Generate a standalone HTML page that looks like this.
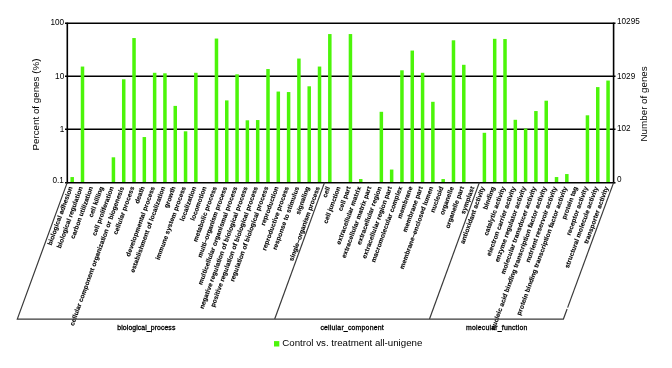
<!DOCTYPE html>
<html><head><meta charset="utf-8"><style>
html,body{margin:0;padding:0;background:#fff;overflow:hidden;width:672px;height:368px;}
svg{display:block;will-change:transform;}
text{font-family:"Liberation Sans",sans-serif;fill:#000;}
</style></head><body>
<svg width="672" height="368" viewBox="0 0 672 368">
<rect width="672" height="368" fill="#fff"/>
<!-- gridlines -->
<g stroke="#000" stroke-width="1.4" fill="none">
<line x1="65" y1="23.3" x2="615.5" y2="23.3"/>
<line x1="65" y1="76.3" x2="615.5" y2="76.3"/>
<line x1="65" y1="129.3" x2="615.5" y2="129.3"/>
</g>
<rect x="70.45" y="177.05" width="3.5" height="5.75" fill="#4cf50a"/>
<rect x="80.75" y="66.55" width="3.5" height="116.25" fill="#4cf50a"/>
<rect x="111.67" y="157.30" width="3.5" height="25.50" fill="#4cf50a"/>
<rect x="121.97" y="79.30" width="3.5" height="103.50" fill="#4cf50a"/>
<rect x="132.28" y="38.05" width="3.5" height="144.75" fill="#4cf50a"/>
<rect x="142.58" y="137.05" width="3.5" height="45.75" fill="#4cf50a"/>
<rect x="152.89" y="72.80" width="3.5" height="110.00" fill="#4cf50a"/>
<rect x="163.19" y="73.30" width="3.5" height="109.50" fill="#4cf50a"/>
<rect x="173.50" y="105.90" width="3.5" height="76.90" fill="#4cf50a"/>
<rect x="183.81" y="131.30" width="3.5" height="51.50" fill="#4cf50a"/>
<rect x="194.11" y="72.80" width="3.5" height="110.00" fill="#4cf50a"/>
<rect x="214.72" y="38.55" width="3.5" height="144.25" fill="#4cf50a"/>
<rect x="225.02" y="100.40" width="3.5" height="82.40" fill="#4cf50a"/>
<rect x="235.33" y="74.30" width="3.5" height="108.50" fill="#4cf50a"/>
<rect x="245.63" y="120.30" width="3.5" height="62.50" fill="#4cf50a"/>
<rect x="255.94" y="120.05" width="3.5" height="62.75" fill="#4cf50a"/>
<rect x="266.25" y="69.05" width="3.5" height="113.75" fill="#4cf50a"/>
<rect x="276.55" y="91.55" width="3.5" height="91.25" fill="#4cf50a"/>
<rect x="286.86" y="92.05" width="3.5" height="90.75" fill="#4cf50a"/>
<rect x="297.16" y="58.55" width="3.5" height="124.25" fill="#4cf50a"/>
<rect x="307.46" y="86.30" width="3.5" height="96.50" fill="#4cf50a"/>
<rect x="317.77" y="66.55" width="3.5" height="116.25" fill="#4cf50a"/>
<rect x="328.07" y="34.05" width="3.5" height="148.75" fill="#4cf50a"/>
<rect x="348.69" y="34.05" width="3.5" height="148.75" fill="#4cf50a"/>
<rect x="358.99" y="179.05" width="3.5" height="3.75" fill="#4cf50a"/>
<rect x="379.60" y="111.80" width="3.5" height="71.00" fill="#4cf50a"/>
<rect x="389.90" y="169.55" width="3.5" height="13.25" fill="#4cf50a"/>
<rect x="400.21" y="70.30" width="3.5" height="112.50" fill="#4cf50a"/>
<rect x="410.51" y="50.55" width="3.5" height="132.25" fill="#4cf50a"/>
<rect x="420.82" y="72.80" width="3.5" height="110.00" fill="#4cf50a"/>
<rect x="431.12" y="101.80" width="3.5" height="81.00" fill="#4cf50a"/>
<rect x="441.43" y="179.05" width="3.5" height="3.75" fill="#4cf50a"/>
<rect x="451.73" y="40.30" width="3.5" height="142.50" fill="#4cf50a"/>
<rect x="462.04" y="64.80" width="3.5" height="118.00" fill="#4cf50a"/>
<rect x="482.65" y="132.80" width="3.5" height="50.00" fill="#4cf50a"/>
<rect x="492.95" y="38.80" width="3.5" height="144.00" fill="#4cf50a"/>
<rect x="503.26" y="39.05" width="3.5" height="143.75" fill="#4cf50a"/>
<rect x="513.57" y="119.80" width="3.5" height="63.00" fill="#4cf50a"/>
<rect x="523.87" y="128.55" width="3.5" height="54.25" fill="#4cf50a"/>
<rect x="534.17" y="111.05" width="3.5" height="71.75" fill="#4cf50a"/>
<rect x="544.48" y="100.70" width="3.5" height="82.10" fill="#4cf50a"/>
<rect x="554.78" y="177.05" width="3.5" height="5.75" fill="#4cf50a"/>
<rect x="565.09" y="174.05" width="3.5" height="8.75" fill="#4cf50a"/>
<rect x="585.70" y="115.30" width="3.5" height="67.50" fill="#4cf50a"/>
<rect x="596.00" y="87.10" width="3.5" height="95.70" fill="#4cf50a"/>
<rect x="606.31" y="80.55" width="3.5" height="102.25" fill="#4cf50a"/>
<g stroke="#000" fill="none">
<line x1="65" y1="182.8" x2="615.5" y2="182.8" stroke-width="1.5"/>
<line x1="67.3" y1="22.6" x2="67.3" y2="183.5" stroke-width="1.6"/>
<line x1="613.6" y1="22.6" x2="613.6" y2="183.5" stroke-width="1.6"/>
</g>
<!-- left tick labels -->
<g font-size="8.2" text-anchor="end">
<text x="64.2" y="25">100</text>
<text x="64.2" y="79">10</text>
<text x="64.2" y="131.8">1</text>
<text x="63.8" y="183">0.1</text>
</g>
<g font-size="8.2">
<text x="617" y="24.3">10295</text>
<text x="617" y="79">1029</text>
<text x="617" y="130.9">102</text>
<text x="617" y="182.2">0</text>
</g>
<text font-size="9.8" transform="translate(39.3 150.6) rotate(-90)">Percent of genes (%)</text>
<text font-size="9.8" transform="translate(647.2 141.45) rotate(-90)">Number of genes</text>
<!-- x labels -->
<g font-size="6.5" font-weight="bold" letter-spacing="0.08" stroke="#000" stroke-width="0.12" text-anchor="end">
<text x="0" y="0" transform="translate(72.65 187.40) rotate(-70)">biological adhesion</text>
<text x="0" y="0" transform="translate(82.95 187.40) rotate(-70)">biological regulation</text>
<text x="0" y="0" transform="translate(93.26 187.40) rotate(-70)">carbon utilization</text>
<text x="0" y="0" transform="translate(103.57 187.40) rotate(-70)">cell killing</text>
<text x="0" y="0" transform="translate(113.87 187.40) rotate(-70)">cell proliferation</text>
<text x="0" y="0" transform="translate(124.17 187.40) rotate(-70)">cellular component organization or biogenesis</text>
<text x="0" y="0" transform="translate(134.48 187.40) rotate(-70)">cellular process</text>
<text x="0" y="0" transform="translate(144.78 187.40) rotate(-70)">death</text>
<text x="0" y="0" transform="translate(155.09 187.40) rotate(-70)">developmental process</text>
<text x="0" y="0" transform="translate(165.39 187.40) rotate(-70)">establishment of localization</text>
<text x="0" y="0" transform="translate(175.70 187.40) rotate(-70)">growth</text>
<text x="0" y="0" transform="translate(186.00 187.40) rotate(-70)">immune system process</text>
<text x="0" y="0" transform="translate(196.31 187.40) rotate(-70)">localization</text>
<text x="0" y="0" transform="translate(206.62 187.40) rotate(-70)">locomotion</text>
<text x="0" y="0" transform="translate(216.92 187.40) rotate(-70)">metabolic process</text>
<text x="0" y="0" transform="translate(227.22 187.40) rotate(-70)" textLength="75.0" lengthAdjust="spacing">multi–organism process</text>
<text x="0" y="0" transform="translate(237.53 187.40) rotate(-70)">multicellular organismal process</text>
<text x="0" y="0" transform="translate(247.83 187.40) rotate(-70)">negative regulation of biological process</text>
<text x="0" y="0" transform="translate(258.14 187.40) rotate(-70)">positive regulation of biological process</text>
<text x="0" y="0" transform="translate(268.44 187.40) rotate(-70)">regulation of biological process</text>
<text x="0" y="0" transform="translate(278.75 187.40) rotate(-70)">reproduction</text>
<text x="0" y="0" transform="translate(289.06 187.40) rotate(-70)">reproductive process</text>
<text x="0" y="0" transform="translate(299.36 187.40) rotate(-70)">response to stimulus</text>
<text x="0" y="0" transform="translate(309.66 187.40) rotate(-70)">signaling</text>
<text x="0" y="0" transform="translate(319.97 187.40) rotate(-70)" textLength="78.8" lengthAdjust="spacing">single–organism process</text>
<text x="0" y="0" transform="translate(330.27 187.40) rotate(-70)">cell</text>
<text x="0" y="0" transform="translate(340.58 187.40) rotate(-70)">cell junction</text>
<text x="0" y="0" transform="translate(350.88 187.40) rotate(-70)">cell part</text>
<text x="0" y="0" transform="translate(361.19 187.40) rotate(-70)">extracellular matrix</text>
<text x="0" y="0" transform="translate(371.49 187.40) rotate(-70)">extracellular matrix part</text>
<text x="0" y="0" transform="translate(381.80 187.40) rotate(-70)">extracellular region</text>
<text x="0" y="0" transform="translate(392.10 187.40) rotate(-70)">extracellular region part</text>
<text x="0" y="0" transform="translate(402.41 187.40) rotate(-70)">macromolecular complex</text>
<text x="0" y="0" transform="translate(412.71 187.40) rotate(-70)">membrane</text>
<text x="0" y="0" transform="translate(423.02 187.40) rotate(-70)">membrane part</text>
<text x="0" y="0" transform="translate(433.32 187.40) rotate(-70)">membrane–enclosed lumen</text>
<text x="0" y="0" transform="translate(443.63 187.40) rotate(-70)">nucleoid</text>
<text x="0" y="0" transform="translate(453.93 187.40) rotate(-70)">organelle</text>
<text x="0" y="0" transform="translate(464.24 187.40) rotate(-70)">organelle part</text>
<text x="0" y="0" transform="translate(474.54 187.40) rotate(-70)">symplast</text>
<text x="0" y="0" transform="translate(484.85 187.40) rotate(-70)">antioxidant activity</text>
<text x="0" y="0" transform="translate(495.15 187.40) rotate(-70)">binding</text>
<text x="0" y="0" transform="translate(505.46 187.40) rotate(-70)">catalytic activity</text>
<text x="0" y="0" transform="translate(515.77 187.40) rotate(-70)">electron carrier activity</text>
<text x="0" y="0" transform="translate(526.07 187.40) rotate(-70)">enzyme regulator activity</text>
<text x="0" y="0" transform="translate(536.38 187.40) rotate(-70)">molecular transducer activity</text>
<text x="0" y="0" transform="translate(546.68 187.40) rotate(-70)">nucleic acid binding transcription factor activity</text>
<text x="0" y="0" transform="translate(556.99 187.40) rotate(-70)">nutrient reservoir activity</text>
<text x="0" y="0" transform="translate(567.29 187.40) rotate(-70)">protein binding transcription factor activity</text>
<text x="0" y="0" transform="translate(577.60 187.40) rotate(-70)">protein tag</text>
<text x="0" y="0" transform="translate(587.90 187.40) rotate(-70)">receptor activity</text>
<text x="0" y="0" transform="translate(598.21 187.40) rotate(-70)">structural molecule activity</text>
<text x="0" y="0" transform="translate(608.51 187.40) rotate(-70)">transporter activity</text>
</g>
<!-- brackets -->
<g stroke="#3a3a3a" stroke-width="1.2" fill="none" stroke-linejoin="miter">
<polyline points="67.2,182.6 17.3,319.05 563.4,319.05 567.10,309.0"/>
<line x1="567.61" y1="307.6" x2="613.6" y2="182.6"/>
<line x1="274.7" y1="319.05" x2="324.5" y2="182.6"/>
<line x1="429.5" y1="319.05" x2="479.3" y2="182.6"/>
</g>
<g font-size="6.9" stroke="#000" stroke-width="0.3" text-anchor="middle">
<text x="146.35" y="329.6" textLength="58" lengthAdjust="spacing">biological_process</text>
<text x="352.05" y="329.6" textLength="63.3" lengthAdjust="spacing">cellular_component</text>
<text x="496.7" y="329.6" textLength="61.2" lengthAdjust="spacing">molecular_function</text>
</g>
<!-- legend -->
<rect x="274" y="341.1" width="5.3" height="5.4" fill="#4cf50a"/>
<text x="282.3" y="346" font-size="9.7">Control vs. treatment all-unigene</text>
</svg>
</body></html>
